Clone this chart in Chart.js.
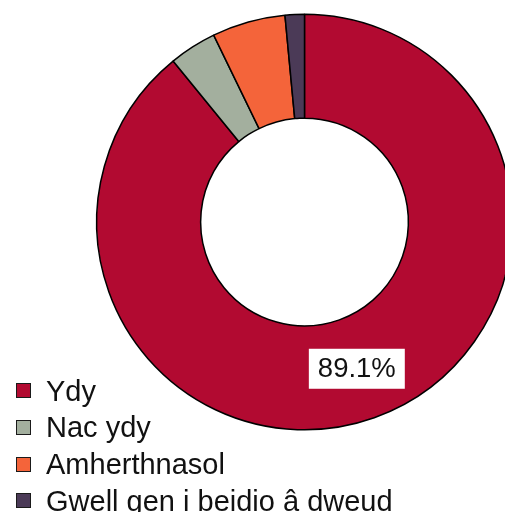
<!DOCTYPE html>
<html>
<head>
<meta charset="utf-8">
<script src="https://cdn.jsdelivr.net/npm/chart.js@4/dist/chart.umd.min.js"></script>
<style>
  html, body { margin: 0; padding: 0; background: #fff; overflow: hidden; width: 505px; height: 512px; }
  #wrap { position: relative; width: 505px; height: 512px; overflow: hidden; }
  #c { position: absolute; left: 0; top: 0; }
  #legend { position: absolute; left: 0; top: 0; font-family: "Liberation Sans", Arial, sans-serif; font-size: 29px; color: #111; }
  .item { position: absolute; left: 16px; white-space: nowrap; height: 36px; line-height: 36px; }
  .box { position: absolute; left: 0; top: 10.5px; width: 13px; height: 13px; border: 1.5px solid #1a1a1a; }
  .txt { position: absolute; left: 30px; top: 0; }
</style>
</head>
<body>
<div id="wrap">
  <canvas id="c" width="530" height="512" style="width:530px;height:512px"></canvas>
  <div id="legend"></div>
</div>
<script>
const categories = ["Ydy", "Nac ydy", "Amherthnasol", "Gwell gen i beidio â dweud"];
const values = [89.1, 3.7, 5.7, 1.5];
const colors = ["#B20A31", "#A3AF9E", "#F4643A", "#4B3A57"];

const labelPlugin = {
  id: 'valueLabels',
  afterDatasetsDraw(chart) {
    const ctx = chart.ctx;
    const meta = chart.getDatasetMeta(0);
    meta.data.forEach((arc, i) => {
      const v = chart.data.datasets[0].data[i];
      if (v < 10) return;
      const p = arc.tooltipPosition();
      const text = v.toFixed(1) + '%';
      ctx.save();
      ctx.font = '27.5px "Liberation Sans", Arial, sans-serif';
      const w = ctx.measureText(text).width;
      const bw = w + 18, bh = 40;
      ctx.fillStyle = '#fff';
      ctx.fillRect(p.x - bw / 2, p.y - bh / 2, bw, bh);
      ctx.fillStyle = '#111';
      ctx.textAlign = 'center';
      ctx.textBaseline = 'middle';
      ctx.fillText(text, p.x, p.y + 1);
      ctx.restore();
    });
  }
};

new Chart(document.getElementById('c'), {
  type: 'doughnut',
  data: {
    labels: categories,
    datasets: [{
      data: values,
      backgroundColor: colors,
      borderColor: '#000',
      borderWidth: 1.5
    }]
  },
  options: {
    responsive: false,
    animation: false,
    cutout: '50%',
    layout: { padding: { left: 96, top: 13, right: 17, bottom: 81 } },
    plugins: {
      legend: { display: false },
      tooltip: { enabled: false }
    }
  },
  plugins: [labelPlugin]
});

const legend = document.getElementById('legend');
const rowTops = 372.5, rowStep = 36.8;
categories.forEach((c, i) => {
  const item = document.createElement('div');
  item.className = 'item';
  item.style.top = (rowTops + i * rowStep) + 'px';
  const b = document.createElement('span');
  b.className = 'box';
  b.style.background = colors[i];
  const t = document.createElement('span');
  t.className = 'txt';
  t.textContent = c;
  item.appendChild(b);
  item.appendChild(t);
  legend.appendChild(item);
});
</script>
</body>
</html>
